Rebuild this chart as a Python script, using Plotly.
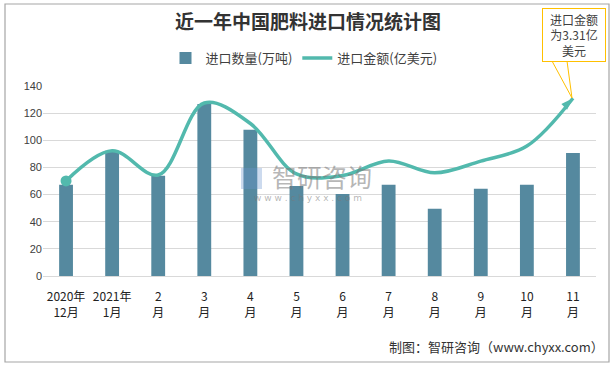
import plotly.graph_objects as go

categories = ["2020年<br>12月", "2021年<br>1月", "2<br>月", "3<br>月", "4<br>月", "5<br>月",
              "6<br>月", "7<br>月", "8<br>月", "9<br>月", "10<br>月", "11<br>月"]
quantity = [67.3, 92.2, 73.8, 126.8, 107.7, 66.4, 60.5, 67.2, 49.5, 64.2, 67.2, 90.7]  # 万吨
amount = [1.77, 2.33, 1.88, 3.22, 2.84, 1.90, 1.87, 2.14, 1.92, 2.14, 2.42, 3.31]      # 亿美元

W, H = 616, 368
L, R, T, B = 43, 20, 86, 92
PW, PH = W - L - R, H - T - B

def px(x):
    return (x - L) / PW

def py(y):
    return (H - B - y) / PH

FONT = "Noto Sans CJK SC"
BAR = "#55899f"
LINE = "#52b9ad"

fig = go.Figure()
fig.add_trace(go.Bar(x=categories, y=quantity, name="进口数量(万吨)",
                     marker=dict(color=BAR, line=dict(width=0)), width=0.3))
fig.add_trace(go.Scatter(
    x=categories, y=amount, name="进口金额(亿美元)", yaxis="y2",
    mode="lines+markers",
    line=dict(color=LINE, width=3.5, shape="spline", smoothing=1.0),
    marker=dict(color=LINE, size=1, opacity=0),
))
# start dot and end arrow of the amount line
fig.add_trace(go.Scatter(
    x=[categories[0]], y=[amount[0]], yaxis="y2", mode="markers", showlegend=False,
    marker=dict(color=LINE, size=11, symbol="circle", line=dict(width=0)), hoverinfo="skip"))
fig.add_trace(go.Scatter(
    x=[categories[-1]], y=[amount[-1]], yaxis="y2", mode="markers", showlegend=False,
    marker=dict(color=LINE, size=13, symbol="arrow", angle=45, line=dict(width=0)),
    hoverinfo="skip"))

shapes = [
    # outer border
    dict(type="rect", xref="paper", yref="paper", x0=px(5), x1=px(609), y0=py(362), y1=py(4),
         line=dict(color="#a6a6a6", width=1.2), fillcolor="rgba(0,0,0,0)", layer="below"),
    # callout pointer
    dict(type="path", xref="paper", yref="paper",
         path=f"M {px(552)},{py(61)} L {px(572)},{py(98)} L {px(567)},{py(61)} Z",
         line=dict(color="#ffc000", width=1), fillcolor="white"),
    # watermark logo
    dict(type="rect", xref="paper", yref="paper", x0=px(241), x1=px(262), y0=py(189), y1=py(168),
         line=dict(width=0), fillcolor="rgba(110,150,205,0.35)", layer="above"),
]

annotations = [
    dict(text="进口金额<br>为3.31亿<br>美元", xref="paper", yref="paper", x=px(574), y=py(35),
         xanchor="center", yanchor="middle", showarrow=False, align="center",
         font=dict(family=FONT, size=12, color="#404040"),
         bordercolor="#ffc000", borderwidth=1, bgcolor="white", width=60, height=50),
    dict(text="智研咨询", xref="paper", yref="paper", x=px(322), y=py(176),
         xanchor="center", yanchor="middle", showarrow=False,
         font=dict(family=FONT, size=25, color="rgba(120,120,120,0.55)")),
    dict(text="w w w . c h y x x . c o m", xref="paper", yref="paper", x=px(308), y=py(198),
         xanchor="center", yanchor="middle", showarrow=False,
         font=dict(family="DejaVu Sans", size=9, color="rgba(120,120,120,0.55)")),
    dict(text="制图：智研咨询（www.chyxx.com）", xref="paper", yref="paper", x=px(606), y=py(346),
         xanchor="right", yanchor="middle", showarrow=False,
         font=dict(family=FONT, size=13, color="#333333")),
]

fig.update_layout(
    width=W, height=H,
    margin=dict(l=L, r=R, t=T, b=B, autoexpand=False),
    paper_bgcolor="white", plot_bgcolor="white",
    font=dict(family=FONT, color="#404040"),
    title=dict(text="<b>近一年中国肥料进口情况统计图</b>", xref="paper", x=px(308), xanchor="center",
               yref="container", y=1 - 22 / H, yanchor="middle",
               font=dict(family=FONT, size=19, color="#333333")),
    legend=dict(orientation="h", x=px(304), xanchor="center", y=py(58), yanchor="middle",
                font=dict(family=FONT, size=13, color="#404040"), itemwidth=30,
                bgcolor="rgba(0,0,0,0)"),
    xaxis=dict(range=[-0.5, len(categories) - 0.5], showgrid=False, showline=True,
               linecolor="#d9d9d9", ticks="", ticklabelstandoff=10,
               tickfont=dict(family=FONT, size=12, color="#222222")),
    yaxis=dict(range=[0, 140], dtick=20, showgrid=True, gridcolor="#d9d9d9", gridwidth=1,
               zeroline=False, showline=False, ticks="",
               tickfont=dict(family="Liberation Sans", size=11, color="#404040")),
    yaxis2=dict(overlaying="y", range=[0, 3.31 * 140 / 131], visible=False),
    shapes=shapes, annotations=annotations,
)

fig.write_html("out.html", post_script="document.body.style.margin='0';",
               config={"displayModeBar": False})
